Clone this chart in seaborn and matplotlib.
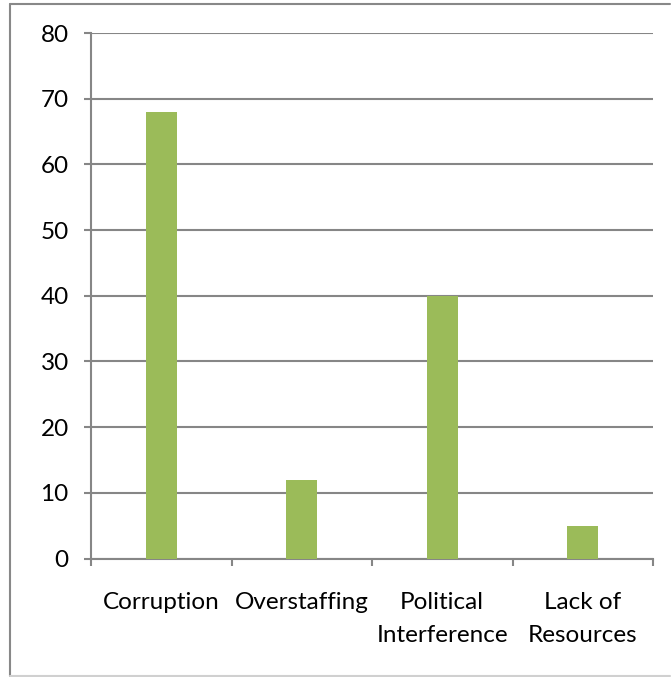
import matplotlib
matplotlib.use("Agg")
import matplotlib.pyplot as plt
import seaborn as sns
import pandas as pd
from matplotlib.lines import Line2D

categories = ["Corruption", "Overstaffing", "Political\nInterference", "Lack of\nResources"]
values = [68, 12, 40, 5]
y_ticks = [0, 10, 20, 30, 40, 50, 60, 70, 80]

sns.set_style("white")
plt.rcParams['font.family'] = ['Lato', 'DejaVu Sans']

W, H = 671, 677
fig = plt.figure(figsize=(W/100, H/100), dpi=100)
ax = fig.add_axes([91/W, 1-558.5/H, (653-91)/W, (558.5-33)/H])

df = pd.DataFrame({"cat": categories, "val": values})
sns.barplot(data=df, x="cat", y="val", color="#9BBB59", width=0.22, saturation=1,
            linewidth=0, ax=ax, zorder=3)

grid_c = "#868686"
ax.set_ylim(0, 80)
ax.set_xlim(-0.5, 3.5)
ax.set_yticks(y_ticks)
ax.set_yticklabels([str(v) for v in y_ticks])
ax.yaxis.grid(True, color=grid_c, linewidth=1.5, zorder=0)
ax.set_axisbelow(True)
ax.set_xlabel("")
ax.set_ylabel("")

for s in ["top", "right"]:
    ax.spines[s].set_visible(False)
for s in ["left", "bottom"]:
    ax.spines[s].set_color(grid_c)
    ax.spines[s].set_linewidth(1.5)

fs = 17.5
ax.tick_params(axis="y", which="major", left=True, length=5, width=1.5, color=grid_c, pad=11, labelsize=fs, labelcolor="black")
ax.set_xticks([-0.5, 0.5, 1.5, 2.5, 3.5], minor=True)
ax.tick_params(axis="x", which="minor", bottom=True, length=5, width=1.5, color=grid_c)
ax.tick_params(axis="x", which="major", bottom=True, length=0, pad=24, labelsize=fs, labelcolor="black")
for t in ax.get_xticklabels():
    t.set_linespacing(1.72)

# figure border
fig.add_artist(Line2D([10/W, 10/W], [1-4/H, 1-676/H], transform=fig.transFigure, color="#888888", linewidth=1.5))
fig.add_artist(Line2D([10/W, 670/W], [1-4/H, 1-4/H], transform=fig.transFigure, color="#888888", linewidth=1.5))
fig.add_artist(Line2D([10/W, 670/W], [1-676/H, 1-676/H], transform=fig.transFigure, color="#d0d0d0", linewidth=1.5))

fig.savefig("out.png", dpi=100)
